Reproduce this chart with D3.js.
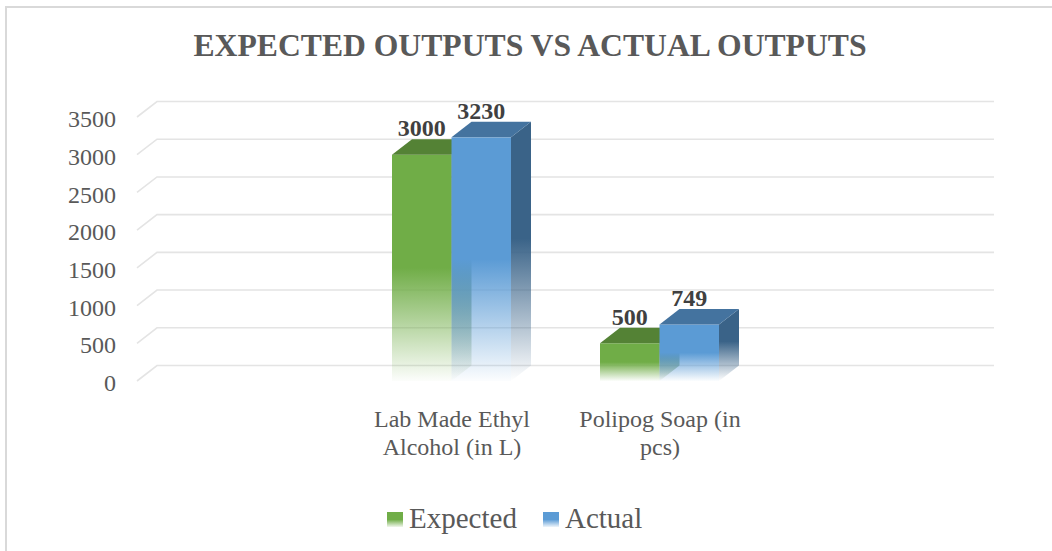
<!DOCTYPE html>
<html>
<head>
<meta charset="utf-8">
<script src="https://cdn.jsdelivr.net/npm/d3@7/dist/d3.min.js"></script>
<style>
  html, body { margin: 0; padding: 0; background: #fff; }
  svg { display: block; }
</style>
</head>
<body>
<svg id="chart" width="1052" height="551"></svg>
<script>
const title = "EXPECTED OUTPUTS VS ACTUAL OUTPUTS";
const categories = ["Lab Made Ethyl Alcohol (in L)", "Polipog Soap (in pcs)"];
const seriesNames = ["Expected", "Actual"];
const expectedValues = [3000, 500];
const actualValues = [3230, 749];
const yTickValues = [0, 500, 1000, 1500, 2000, 2500, 3000, 3500];

const seriesColors = {
  Expected: { front: "#70AD47", top: "#548235", side: "#4E7A31" },
  Actual:   { front: "#5B9BD5", top: "#44739F", side: "#3A6388" }
};

const svg = d3.select("#chart");
const W = 1052, H = 551;
const FONT = "'Liberation Serif', 'Times New Roman', serif";

// depth offset of the 3D box
const DX = 20, DY = -15.5;

// scales (front plane)
const y = d3.scaleLinear().domain([0, 3500]).range([381, 117]);
const x = d3.scaleBand().domain(categories).range([345, 761]);
const xs = d3.scaleBand().domain(seriesNames).range([47, 166]);

// outer border
svg.append("rect").attr("x", 6).attr("y", 7).attr("width", W + 20).attr("height", H + 20)
  .attr("fill", "#fff").attr("stroke", "#D9D9D9").attr("stroke-width", 2);

// title
svg.append("text").attr("x", 530).attr("y", 56).attr("text-anchor", "middle")
  .attr("font-family", FONT)
  .attr("font-weight", "bold").attr("font-size", 32).attr("fill", "#595959")
  .attr("textLength", 673).attr("lengthAdjust", "spacingAndGlyphs")
  .text(title);

// gradients
const defs = svg.append("defs");
function makeGrad(id, color, stopSolid, endOpacity) {
  const g = defs.append("linearGradient").attr("id", id)
    .attr("x1", 0).attr("y1", 0).attr("x2", 0).attr("y2", 1);
  g.append("stop").attr("offset", 0).attr("stop-color", color).attr("stop-opacity", 1);
  g.append("stop").attr("offset", stopSolid).attr("stop-color", color).attr("stop-opacity", 1);
  g.append("stop").attr("offset", 1).attr("stop-color", color).attr("stop-opacity", endOpacity);
}
seriesNames.forEach(s => {
  makeGrad("front-" + s, seriesColors[s].front, 0.5, 0.02);
  makeGrad("side-" + s, seriesColors[s].side, 0.45, 0.0);
  makeGrad("leg-" + s, seriesColors[s].front, 0.5, 0.1);
});

// gridlines (left wall diagonal + back wall)
const xFront = 137, xRight = 994 - DX;
const grid = svg.append("g");
yTickValues.forEach(v => {
  const yf = y(v);
  grid.append("path")
    .attr("d", `M${xFront},${yf} L${xFront + DX},${yf + DY} L${xRight + DX},${yf + DY}`)
    .attr("fill", "none").attr("stroke", "#E4E4E4").attr("stroke-width", 1.6);
});

// y axis labels
const yAxis = d3.axisLeft(y).tickValues(yTickValues).tickSize(0).tickPadding(0)
  .tickFormat(d3.format("d"));
const ya = svg.append("g").attr("transform", "translate(116,2)").call(yAxis);
ya.select(".domain").remove();
ya.selectAll("text").attr("font-family", FONT)
  .attr("font-size", 24).attr("fill", "#595959");

// bars
const seriesData = { Expected: expectedValues, Actual: actualValues };
const bars = svg.append("g");
categories.forEach((c, i) => {
  seriesNames.forEach(s => {
    const v = seriesData[s][i];
    const x0 = x(c) + xs(s), x1 = x0 + xs.bandwidth();
    const yt = y(v), yb = y(0);
    const g = bars.append("g");
    g.append("rect").attr("x", x0).attr("y", yt).attr("width", x1 - x0).attr("height", yb - yt)
      .attr("fill", `url(#front-${s})`);
    g.append("path")
      .attr("d", `M${x1},${yt} L${x1 + DX},${yt + DY} L${x1 + DX},${yb + DY} L${x1},${yb} Z`)
      .attr("fill", `url(#side-${s})`);
    g.append("path")
      .attr("d", `M${x0},${yt} L${x1},${yt} L${x1 + DX},${yt + DY} L${x0 + DX},${yt + DY} Z`)
      .attr("fill", seriesColors[s].top);
  });
});

// data labels
categories.forEach((c, i) => {
  seriesNames.forEach(s => {
    const v = seriesData[s][i];
    const cx = x(c) + xs(s) + xs.bandwidth() / 2;
    svg.append("text").attr("x", cx).attr("y", y(v) + DY - 3)
      .attr("text-anchor", "middle")
      .attr("font-family", FONT)
      .attr("font-weight", "bold").attr("font-size", 24).attr("fill", "#404040")
      .text(v);
  });
});

// category labels (wrapped)
function wrapLines(text, width, fontSize) {
  const tmp = svg.append("text").attr("font-family", FONT).attr("font-size", fontSize);
  const words = text.split(" ");
  const lines = [];
  let cur = "";
  words.forEach(w => {
    const test = cur ? cur + " " + w : w;
    tmp.text(test);
    if (tmp.node().getComputedTextLength() > width && cur) {
      lines.push(cur); cur = w;
    } else cur = test;
  });
  if (cur) lines.push(cur);
  tmp.remove();
  return lines;
}
categories.forEach(c => {
  const lines = wrapLines(c, 165, 24);
  const t = svg.append("text").attr("text-anchor", "middle")
    .attr("font-family", FONT)
    .attr("font-size", 24).attr("fill", "#595959");
  lines.forEach((ln, k) => {
    t.append("tspan").attr("x", x(c) + x.bandwidth() / 2 + 3).attr("y", 427 + k * 28).text(ln);
  });
});

// legend
const legendX = [387, 543];
seriesNames.forEach((s, k) => {
  svg.append("rect").attr("x", legendX[k]).attr("y", 512).attr("width", 16).attr("height", 15)
    .attr("fill", `url(#leg-${s})`);
  svg.append("text").attr("x", legendX[k] + 22).attr("y", 528)
    .attr("font-family", FONT)
    .attr("font-size", 29).attr("fill", "#595959").text(s);
});
</script>
</body>
</html>
